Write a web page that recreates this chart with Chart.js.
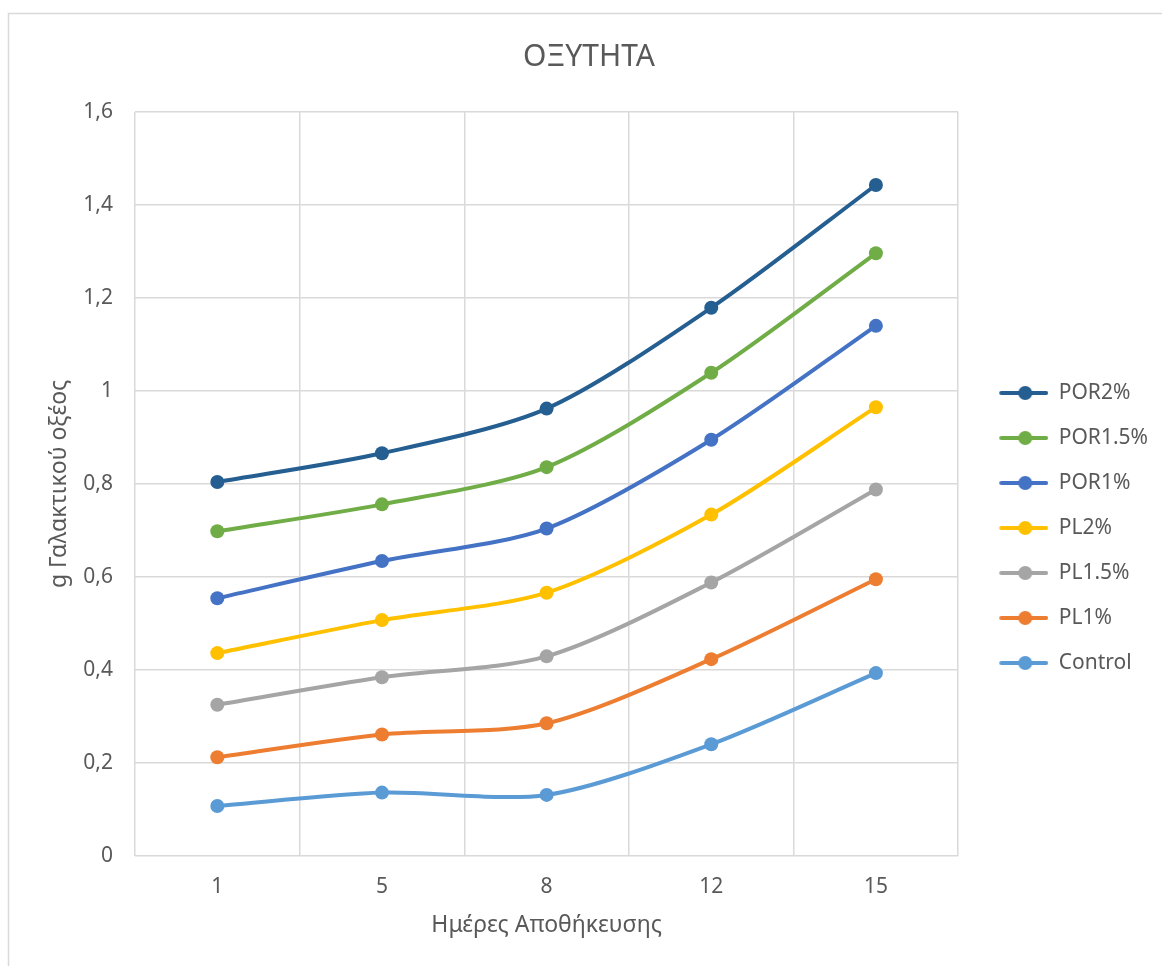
<!DOCTYPE html>
<html>
<head>
<meta charset="utf-8">
<title>ΟΞΥΤΗΤΑ</title>
<script src="https://cdn.jsdelivr.net/npm/chart.js@4.4.1/dist/chart.umd.min.js"></script>
<style>
  html, body { margin: 0; padding: 0; background: #ffffff; }
  #wrap { width: 1162px; height: 966px; position: relative; }
</style>
</head>
<body>
<div id="wrap"><canvas id="chart" width="1162" height="966"></canvas></div>
<script>
// Storage days (category axis)
const days = ['1', '5', '8', '12', '15'];

// Acidity per sample, g lactic acid
const control = [0.107, 0.136, 0.131, 0.240, 0.393];
const pl1     = [0.212, 0.261, 0.285, 0.423, 0.595];
const pl15    = [0.325, 0.384, 0.429, 0.588, 0.788];
const pl2     = [0.436, 0.507, 0.566, 0.734, 0.965];
const por1    = [0.554, 0.634, 0.704, 0.895, 1.140];
const por15   = [0.698, 0.756, 0.836, 1.039, 1.296];
const por2    = [0.804, 0.866, 0.962, 1.179, 1.443];

const seriesNames = ['Control', 'PL1%', 'PL1.5%', 'PL2%', 'POR1%', 'POR1.5%', 'POR2%'];
const seriesValues = [control, pl1, pl15, pl2, por1, por15, por2];

// Value axis tick labels (decimal comma)
const yTickLabels = ['0', '0,2', '0,4', '0,6', '0,8', '1', '1,2', '1,4', '1,6'];

const seriesColors = ['#5B9BD5', '#ED7D31', '#A5A5A5', '#FFC000', '#4472C4', '#70AD47', '#255E91'];

const FONT = '"Noto Sans", "DejaVu Sans", sans-serif';
const TEXT = '#595959';
const GRID = '#D9D9D9';

// Legend swatch: a short line with a round marker on it
function makeLegendIcon(color) {
  const c = document.createElement('canvas');
  c.width = 66; c.height = 16;
  const g = c.getContext('2d');
  g.strokeStyle = color;
  g.lineWidth = 4;
  g.lineCap = 'round';
  g.beginPath();
  g.moveTo(19, 8);
  g.lineTo(64, 8);
  g.stroke();
  g.fillStyle = color;
  g.beginPath();
  g.arc(43, 8, 7, 0, Math.PI * 2);
  g.fill();
  return c;
}
const legendIcons = seriesColors.map(makeLegendIcon);

// Thin frame around the chart
const framePlugin = {
  id: 'frame',
  beforeDraw(chart) {
    const ctx = chart.ctx;
    ctx.save();
    ctx.fillStyle = '#ffffff';
    ctx.fillRect(0, 0, chart.width, chart.height);
    ctx.strokeStyle = GRID;
    ctx.lineWidth = 1.5;
    ctx.strokeRect(8.5, 13.5, chart.width + 20, chart.height + 20);
    ctx.restore();
  }
};

const datasets = seriesNames.map((name, i) => ({
  label: name,
  data: seriesValues[i],
  borderColor: seriesColors[i],
  backgroundColor: seriesColors[i],
  pointBackgroundColor: seriesColors[i],
  pointBorderColor: seriesColors[i],
  pointBorderWidth: 0,
  pointRadius: 7,
  pointHoverRadius: 7,
  borderWidth: 4,
  borderCapStyle: 'round',
  borderJoinStyle: 'round',
  tension: 0.28,
  fill: false
}));

new Chart(document.getElementById('chart'), {
  type: 'line',
  data: { labels: days, datasets },
  plugins: [framePlugin],
  options: {
    responsive: false,
    animation: false,
    devicePixelRatio: 1,
    layout: { padding: { left: 20, right: 4, top: 0, bottom: 0 } },
    plugins: {
      title: {
        display: true,
        text: 'ΟΞΥΤΗΤΑ',
        color: TEXT,
        font: { family: FONT, size: 30, weight: 'normal', lineHeight: 1.2 },
        padding: { top: 39, bottom: 37 }
      },
      legend: {
        display: true,
        position: 'right',
        reverse: true,
        title: { display: true, text: '', font: { size: 10, lineHeight: 1.2 }, padding: { top: 78, bottom: 0 } },
        labels: {
          color: TEXT,
          font: { family: FONT, size: 21 },
          usePointStyle: true,
          pointStyleWidth: 66,
          padding: 24,
          generateLabels(chart) {
            const items = Chart.defaults.plugins.legend.labels.generateLabels(chart);
            items.forEach(it => { it.pointStyle = legendIcons[it.datasetIndex]; });
            return items;
          }
        }
      },
      tooltip: { enabled: false }
    },
    scales: {
      x: {
        type: 'category',
        offset: true,
        grid: { display: true, offset: true, color: GRID, lineWidth: 1.5, drawTicks: false },
        border: { display: false },
        ticks: { color: TEXT, font: { family: FONT, size: 21 }, padding: 19, maxRotation: 0 },
        title: {
          display: true,
          text: 'Ημέρες Αποθήκευσης',
          color: TEXT,
          font: { family: FONT, size: 23, lineHeight: 1.2 },
          padding: { top: 0, bottom: 27 }
        },
        afterFit(scale) { scale.height = 966 - 855.8; }
      },
      y: {
        min: 0,
        max: 1.6,
        grid: { color: GRID, lineWidth: 1.5, drawTicks: false },
        border: { display: false },
        ticks: {
          stepSize: 0.2,
          color: TEXT,
          font: { family: FONT, size: 21 },
          padding: 22,
          callback(value, index) { return yTickLabels[index]; }
        },
        title: {
          display: true,
          text: 'g Γαλακτικού οξέος',
          color: TEXT,
          font: { family: FONT, size: 23, lineHeight: 1.2 },
          padding: { top: 26, bottom: 0 }
        },
        afterFit(scale) { scale.width = 135 - 20; }
      }
    }
  }
});
</script>
</body>
</html>
